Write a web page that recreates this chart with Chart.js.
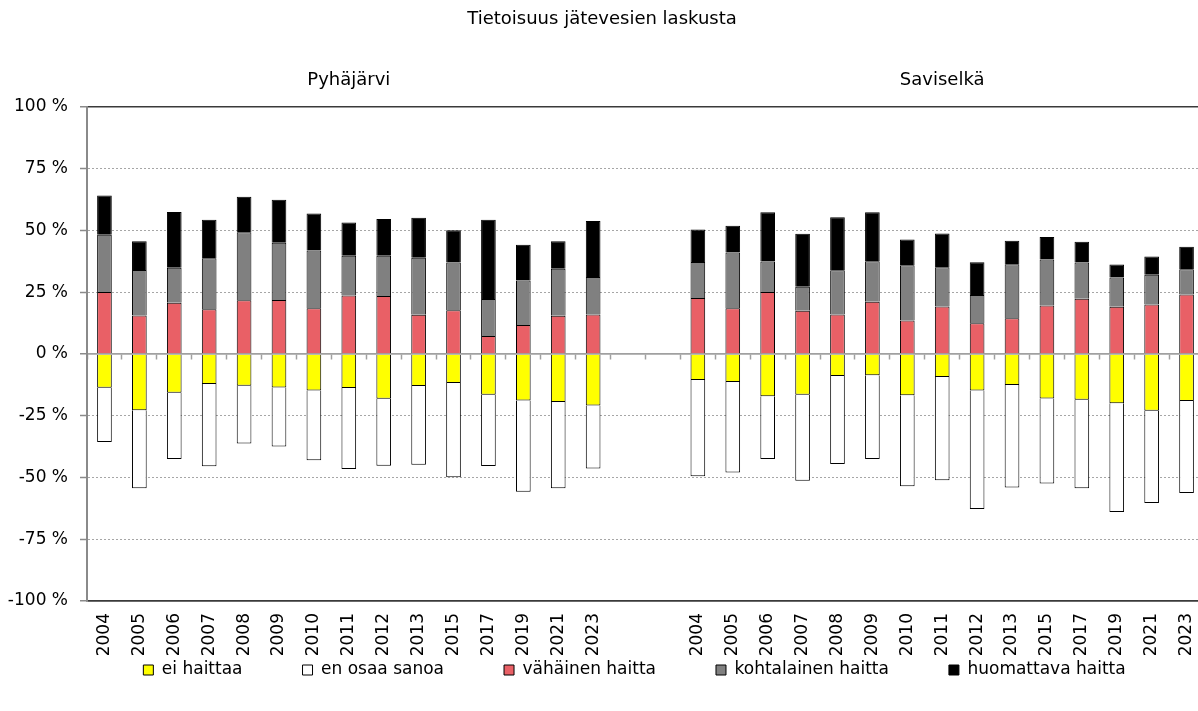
<!DOCTYPE html>
<html><head><meta charset="utf-8">
<script src="https://cdn.jsdelivr.net/npm/chart.js@4/dist/chart.umd.min.js"></script>
<style>
html,body{margin:0;padding:0;background:#fff;overflow:hidden;}
#wrap{position:relative;width:1204px;height:711px;}
</style></head><body>
<div id="wrap"><canvas id="c"></canvas></div>
<script>
const chartTitle = 'Tietoisuus jätevesien laskusta';
const groupNames = ['Pyhäjärvi', 'Saviselkä'];
const years = ['2004','2005','2006','2007','2008','2009','2010','2011','2012','2013','2015','2017','2019','2021','2023'];
const seriesNames = ['ei haittaa', 'en osaa sanoa', 'vähäinen haitta', 'kohtalainen haitta', 'huomattava haitta'];
const seriesColors = ['#FFFF00', '#FFFFFF', '#E96066', '#808080', '#000000'];
const yTicks = [-100, -75, -50, -25, 0, 25, 50, 75, 100];

// Pyhäjärvi (%)
const pyhEi  = [-13.7, -22.8, -15.7, -12.1, -12.9, -13.6, -14.8, -13.8, -18.1, -13.0, -11.7, -16.5, -18.8, -19.4, -20.8];
const pyhEn  = [-21.9, -31.6, -26.8, -33.3, -23.3, -23.8, -28.2, -32.8, -27.1, -31.8, -38.2, -28.8, -37.0, -35.0, -25.6];
const pyhVah = [25.1, 15.6, 20.7, 18.1, 21.8, 21.9, 18.5, 23.7, 23.5, 15.9, 17.7, 7.3, 11.7, 15.5, 16.0];
const pyhKoh = [23.2, 18.4, 14.2, 20.7, 27.5, 23.1, 23.4, 16.1, 16.3, 23.1, 19.3, 15.0, 18.1, 19.0, 15.2];
const pyhHuo = [15.9, 11.6, 22.6, 15.6, 14.4, 17.5, 15.0, 13.4, 14.9, 16.2, 13.1, 32.1, 14.4, 11.1, 22.6];

// Saviselkä (%)
const savEi  = [-10.5, -11.3, -17.1, -16.5, -8.9, -8.6, -16.7, -9.3, -14.8, -12.5, -18.0, -18.5, -19.9, -23.0, -19.0];
const savEn  = [-39.0, -36.7, -25.4, -34.8, -35.6, -33.9, -36.8, -41.8, -48.0, -41.5, -34.4, -35.9, -44.1, -37.3, -37.3];
const savVah = [22.7, 18.5, 25.1, 17.5, 16.0, 21.2, 13.6, 19.2, 12.4, 14.5, 19.6, 22.4, 19.1, 20.0, 24.1];
const savKoh = [14.5, 22.6, 12.4, 9.7, 17.9, 16.4, 22.3, 15.9, 11.5, 21.8, 18.7, 14.6, 11.9, 12.1, 10.2];
const savHuo = [13.2, 10.8, 19.9, 21.5, 21.5, 19.8, 10.5, 13.7, 13.2, 9.5, 9.1, 8.4, 5.2, 7.4, 9.1];

const gapLabels = ['', ''];
const gapValues = [null, null];
const categories = [...years, ...gapLabels, ...years];
const join = (a, b) => [...a, ...gapValues, ...b];
const seriesData = [join(pyhEi, savEi), join(pyhEn, savEn), join(pyhVah, savVah), join(pyhKoh, savKoh), join(pyhHuo, savHuo)];
const groups = [
  { name: groupNames[0], first: 0, last: years.length - 1 },
  { name: groupNames[1], first: years.length + gapLabels.length, last: categories.length - 1 }
];

Chart.defaults.font.family = '"DejaVu Sans", sans-serif';
Chart.defaults.color = '#000';

const LEGEND_PAD = 60;
const LEGEND_TEXT_Y = 670;
const LEGEND_SHIFT_X = -11;

const groupTitlePlugin = {
  id: 'groupTitles',
  afterDraw(chart) {
    const xs = chart.scales.x, ctx = chart.ctx;
    ctx.save();
    ctx.font = '18px "DejaVu Sans", sans-serif';
    ctx.fillStyle = '#000';
    ctx.textAlign = 'center';
    ctx.textBaseline = 'middle';
    groups.forEach(g => {
      const cx = (xs.getPixelForValue(g.first) + xs.getPixelForValue(g.last)) / 2;
      ctx.fillText(g.name, cx, chart.chartArea.top - 27);
    });
    ctx.restore();
  }
};

const legendPlacePlugin = {
  id: 'legendPlace',
  afterLayout(chart) {
    const lg = chart.legend;
    if (!lg) return;
    const dy = (lg.top + LEGEND_PAD + 8.5) - LEGEND_TEXT_Y;
    lg.top -= dy;
    lg.bottom = chart.height;
    lg.height = lg.bottom - lg.top;
    lg.left += LEGEND_SHIFT_X; lg.right += LEGEND_SHIFT_X;
  }
};

new Chart(document.getElementById('c'), {
  type: 'bar',
  data: {
    labels: categories,
    datasets: seriesNames.map((n, i) => ({
      label: n,
      data: seriesData[i],
      backgroundColor: seriesColors[i],
      borderColor: '#000',
      borderWidth: 1,
      barPercentage: 0.42,
      categoryPercentage: 1.0,
      xAxisID: 'x',
      yAxisID: 'y'
    }))
  },
  options: {
    responsive: true,
    maintainAspectRatio: false,
    animation: false,
    events: [],
    layout: { padding: 0 },
    scales: {
      x: {
        type: 'category',
        stacked: true,
        offset: true,
        position: 'bottom',
        grid: { display: false, drawTicks: false },
        border: { display: true, color: '#3a3a3a', width: 1.5 },
        ticks: { minRotation: 90, maxRotation: 90, autoSkip: false, padding: 12, color: '#000', font: { size: 17 } },
        afterFit: s => { s.height = 60; s.paddingLeft = 0; s.paddingRight = 0; }
      },
      x0: {
        type: 'category',
        axis: 'x',
        position: { y: 0 },
        offset: true,
        grid: { drawOnChartArea: false, drawTicks: true, tickLength: 5, tickColor: '#a0a0a0', tickWidth: 1.5, offset: true },
        border: { display: true, color: '#a0a0a0', width: 1.5 },
        ticks: { display: false }
      },
      y: {
        stacked: true,
        min: -100,
        max: 100,
        afterBuildTicks: s => { s.ticks = yTicks.map(v => ({ value: v })); },
        ticks: { padding: 12, color: '#000', font: { size: 17 }, callback: v => v + ' %' },
        grid: {
          color: c => { const v = c.tick ? c.tick.value : null; if (v === 100 || v === -100) return '#3a3a3a'; return '#a6a6a6'; },
          lineWidth: c => { const v = c.tick ? c.tick.value : null; return (v === 100 || v === -100 || v === 0) ? 1.5 : 1; },
          drawTicks: true, tickLength: 7, tickColor: '#8a8a8a', tickWidth: 1.5
        },
        border: {
          display: true, color: '#8a8a8a', width: 2,
          dash: c => (c.tick && c.tick.value % 100 !== 0) ? [2, 2] : []
        },
        afterFit: s => { s.width = 87; }
      }
    },
    plugins: {
      tooltip: { enabled: false },
      title: { display: true, text: chartTitle, color: '#000', font: { size: 18, weight: 'normal' }, padding: { top: 9, bottom: 76.4 } },
      legend: {
        position: 'bottom',
        fullSize: false,
        maxHeight: 711 - 105 - 496 - 60,
        labels: { boxWidth: 10, boxHeight: 10, padding: LEGEND_PAD, color: '#000', font: { size: 17 } }
      }
    }
  },
  plugins: [groupTitlePlugin, legendPlacePlugin]
});
</script>
</body></html>
